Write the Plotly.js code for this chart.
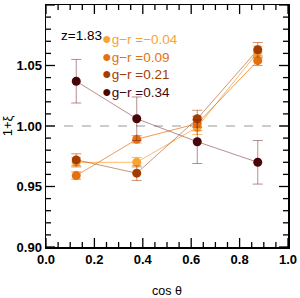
<!DOCTYPE html>
<html><head><meta charset="utf-8">
<script src="https://cdn.plot.ly/plotly-3.0.1.min.js"></script>
<style>html,body{margin:0;padding:0;background:#fff}#c{width:300px;height:298px}</style>
</head><body><div id="c"></div>
<script>
const cosTheta = [0.125, 0.375, 0.625, 0.875];
const grLabels = ['g\u2212r =\u22120.04', 'g\u2212r =0.09', 'g\u2212r =0.21', 'g\u2212r =0.34'];
const colors = ['#F9A332', '#E5700F', '#A53D03', '#4A0508'];
const lineColors = ['rgba(249,163,50,0.75)', 'rgba(229,112,15,0.7)', 'rgba(165,61,3,0.55)', 'rgba(110,30,30,0.5)'];
const xi_m004 = [0.970, 0.970, 0.999, 1.061];
const err_m004 = [0.004, 0.004, 0.006, 0.005];
const xi_009 = [0.959, 0.989, 1.002, 1.054];
const err_009 = [0.003, 0.003, 0.006, 0.004];
const xi_021 = [0.972, 0.961, 1.006, 1.063];
const err_021 = [0.005, 0.006, 0.007, 0.006];
const xi_034 = [1.037, 1.006, 0.987, 0.970];
const err_034 = [0.018, 0.018, 0.018, 0.018];
const xTickVals = [0, 0.2, 0.4, 0.6, 0.8, 1.0];
const yTickVals = [0.90, 0.95, 1.00, 1.05, 1.10];
const redshiftLabel = 'z=1.83';

const ys = [xi_m004, xi_009, xi_021, xi_034];
const es = [err_m004, err_009, err_021, err_034];
const traces = ys.map((y, i) => ({
  x: cosTheta, y: y, mode: 'lines+markers',
  marker: {color: colors[i], size: 9},
  line: {color: lineColors[i], width: 1},
  error_y: {type: 'data', array: es[i], visible: true, color: lineColors[i], thickness: 1, width: 5}
}));

const FF = 'Liberation Sans';
const annotations = [{
  xref: 'paper', yref: 'paper', x: 0.055, y: 0.873, xanchor: 'left', yanchor: 'middle',
  text: redshiftLabel, showarrow: false,
  font: {family: FF, size: 13.5, color: 'black'}
}];
grLabels.forEach((t, i) => {
  annotations.push({
    xref: 'paper', yref: 'paper', x: 0.222, y: 0.86 - i * 0.072, xanchor: 'left', yanchor: 'middle',
    text: '<span style="font-size:16px">\u25CF</span>' + t, showarrow: false,
    font: {family: FF, size: 13.5, color: colors[i]}
  });
});

// tick marks drawn as shapes on all four sides (major from tick arrays, minor subdivisions)
const shapes = [{type: 'line', xref: 'paper', yref: 'y', x0: 0, x1: 1, y0: 1, y1: 1,
  line: {color: '#999', width: 1, dash: 'dash'}, layer: 'below'}];
const tl = {color: '#000', width: 1.3};
function xTick(v, len) {
  shapes.push({type: 'line', xref: 'x', yref: 'paper', ysizemode: 'pixel', yanchor: 0, x0: v, x1: v, y0: 0, y1: len, line: tl});
  shapes.push({type: 'line', xref: 'x', yref: 'paper', ysizemode: 'pixel', yanchor: 1, x0: v, x1: v, y0: 0, y1: -len, line: tl});
}
function yTick(v, len) {
  shapes.push({type: 'line', xref: 'paper', yref: 'y', xsizemode: 'pixel', xanchor: 0, x0: 0, x1: len, y0: v, y1: v, line: tl});
  shapes.push({type: 'line', xref: 'paper', yref: 'y', xsizemode: 'pixel', xanchor: 1, x0: 0, x1: -len, y0: v, y1: v, line: tl});
}
for (let i = 0; i < xTickVals.length; i++) {
  xTick(xTickVals[i], 9);
  if (i < xTickVals.length - 1) {
    const step = (xTickVals[i + 1] - xTickVals[i]) / 4;
    for (let k = 1; k < 4; k++) xTick(xTickVals[i] + k * step, 5);
  }
}
for (let i = 0; i < yTickVals.length; i++) {
  yTick(yTickVals[i], 9);
  if (i < yTickVals.length - 1) {
    const step = (yTickVals[i + 1] - yTickVals[i]) / 5;
    for (let k = 1; k < 5; k++) yTick(yTickVals[i] + k * step, 5);
  }
}

const layout = {
  width: 300, height: 298,
  margin: {l: 46, r: 12, t: 5, b: 51},
  showlegend: false,
  xaxis: {range: [0, 1], tickvals: xTickVals, ticks: '', 
    showline: true, linecolor: '#000', linewidth: 1.5, mirror: true,
    showgrid: false, zeroline: false, tickformat: '.1f',
    tickfont: {family: FF, size: 13, weight: 'bold', color: '#000'},
    title: {text: 'cos \u03B8', font: {family: FF, size: 12.5, color: '#000'}}},
  yaxis: {range: [0.9, 1.1], tickvals: yTickVals, ticks: '',
    showline: true, linecolor: '#000', linewidth: 1.5, mirror: true,
    showgrid: false, zeroline: false, tickformat: '.2f',
    tickfont: {family: FF, size: 13, weight: 'bold', color: '#000'},
    title: {text: '1+\u03BE', font: {family: FF, size: 13, color: '#000'}}},
  shapes: shapes,
  annotations: annotations
};
Plotly.newPlot('c', traces, layout, {staticPlot: true});
</script></body></html>
